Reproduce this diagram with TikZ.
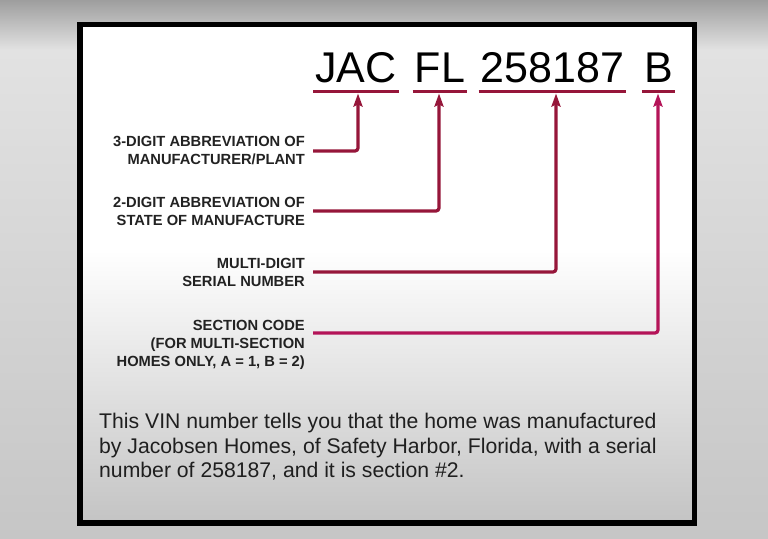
\documentclass[tikz,border=0pt]{standalone}
\usepackage{fontspec}
\setmainfont{Liberation Sans}
\usetikzlibrary{arrows.meta}
\definecolor{vinred}{RGB}{150,22,58}
\definecolor{vinpink}{RGB}{180,20,88}
\definecolor{lblgray}{RGB}{34,34,34}
\definecolor{bgtop}{RGB}{158,158,158}
\definecolor{bgmid}{RGB}{226,226,226}
\definecolor{bgbot}{RGB}{198,198,198}
\definecolor{inbot}{RGB}{196,196,196}
\begin{document}
\begin{tikzpicture}[x=1pt,y=-1pt,
  word/.style={inner xsep=2pt, inner ysep=0pt, anchor=base, font=\fontsize{43}{43}\selectfont},
  uline/.style={vinred, line width=3.5pt},
  lbl/.style={anchor=east, align=right, inner xsep=8pt, inner ysep=0pt, text=lblgray, font=\fontsize{14.7}{18}\selectfont\bfseries},
  conn/.style={vinred, line width=3.2pt, rounded corners=3pt, -{Stealth[length=13pt,width=9pt,inset=2pt]}},
]
\useasboundingbox (0,0) rectangle (768,538);
% background
\shade[top color=bgtop, bottom color=bgmid] (0,0) rectangle (768,50);
\shade[top color=bgmid, bottom color=bgbot] (0,50) rectangle (768,538);
% box interior
\fill[white] (80,24.5) rectangle (694.5,523);
\shade[top color=white, bottom color=inbot] (82,250) rectangle (692.5,521);
\draw[line width=5.5pt, black] (80,24.5) rectangle (694.5,523);

% VIN parts
\node[word] (jac) at (356,82.5) {JAC};
\node[word] (fl) at (440,82.5) {FL};
\node[word] (ser) at (552.5,82.5) {258187};
\node[word] (sec) at (658.5,82.5) {B};

\draw[uline] (jac.west |- 0,91.5) -- (jac.east |- 0,91.5);
\draw[uline] (fl.west |- 0,91.5) -- (fl.east |- 0,91.5);
\draw[uline] (ser.west |- 0,91.5) -- (ser.east |- 0,91.5);
\draw[uline] (sec.west |- 0,91.5) -- (sec.east |- 0,91.5);

\coordinate (tj) at (358,93.5);
\coordinate (tf) at (439,93.5);
\coordinate (ts) at (556,93.5);
\coordinate (tb) at (658,93.5);

% labels
\node[lbl] (l1) at (313,151) {3-DIGIT ABBREVIATION OF\\MANUFACTURER/PLANT};
\node[lbl] (l2) at (313,211) {2-DIGIT ABBREVIATION OF\\STATE OF MANUFACTURE};
\node[lbl] (l3) at (313,272) {MULTI-DIGIT\\SERIAL NUMBER};
\node[lbl] (l4) at (313,345) {SECTION CODE\\(FOR MULTI-SECTION\\HOMES ONLY, A = 1, B = 2)};
\coordinate (s4) at ([yshift=12pt]l4.east);

% connectors
\draw[conn] (l1.east) -| (tj);
\draw[conn] (l2.east) -| (tf);
\draw[conn] (l3.east) -| (ts);
\draw[conn, vinpink] (s4) -| (tb);

% paragraph
\node[anchor=north west, align=left, inner sep=0pt, text=black!88,
      font=\fontsize{21.2}{24.5}\selectfont] (para) at (99,413)
  {This VIN number tells you that the home was manufactured\\
   by Jacobsen Homes, of Safety Harbor, Florida, with a serial\\
   number of 258187, and it is section \#2.};
\end{tikzpicture}
\end{document}
